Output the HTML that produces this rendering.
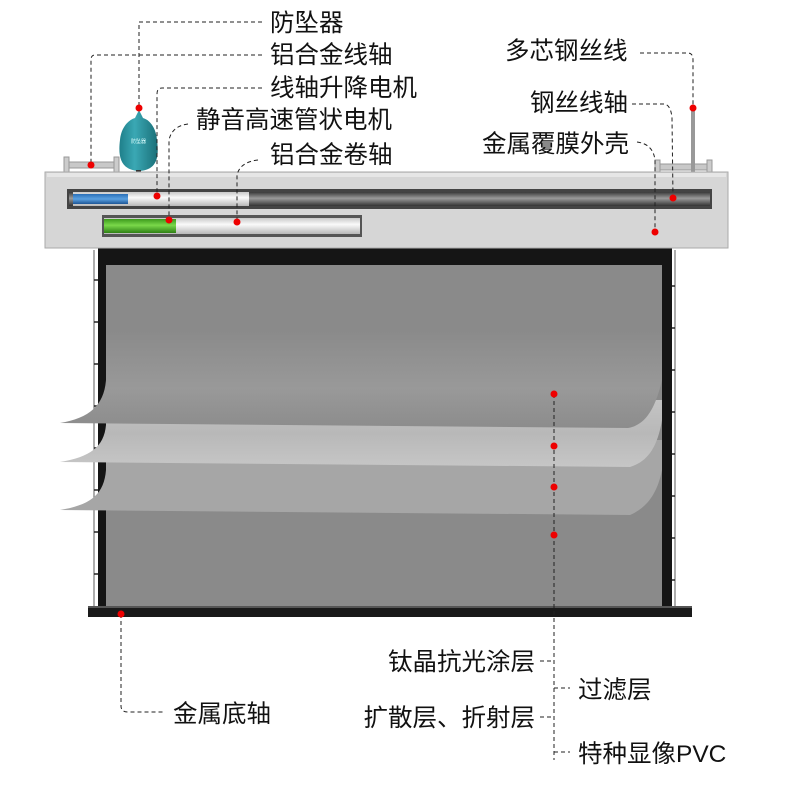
<!DOCTYPE html>
<html><head><meta charset="utf-8"><style>
html,body{margin:0;padding:0;background:#fff;width:800px;height:800px;overflow:hidden}
text{font-family:"Liberation Sans","Noto Sans CJK SC",sans-serif;font-size:24.5px;fill:#111}
</style></head><body>
<svg width="800" height="800" viewBox="0 0 800 800" xmlns="http://www.w3.org/2000/svg">
<defs>
<linearGradient id="tubeD" x1="0" y1="0" x2="0" y2="1"><stop offset="0" stop-color="#3a3a3a"/><stop offset="0.45" stop-color="#9a9a9a"/><stop offset="1" stop-color="#333"/></linearGradient>
<linearGradient id="tubeW" x1="0" y1="0" x2="0" y2="1"><stop offset="0" stop-color="#c8c8c8"/><stop offset="0.4" stop-color="#fafafa"/><stop offset="1" stop-color="#b8b8b8"/></linearGradient>
<linearGradient id="blue" x1="0" y1="0" x2="0" y2="1"><stop offset="0" stop-color="#2a6fb8"/><stop offset="0.5" stop-color="#5aa0e0"/><stop offset="1" stop-color="#1d5596"/></linearGradient>
<linearGradient id="green" x1="0" y1="0" x2="0" y2="1"><stop offset="0" stop-color="#3c9a1c"/><stop offset="0.45" stop-color="#7ad84a"/><stop offset="1" stop-color="#2e8014"/></linearGradient>
<linearGradient id="l1" x1="0" y1="0" x2="0" y2="1"><stop offset="0" stop-color="#8a8a8a"/><stop offset="0.6" stop-color="#999"/><stop offset="1" stop-color="#8c8c8c"/></linearGradient>
<linearGradient id="l2" x1="0" y1="0" x2="0" y2="1"><stop offset="0" stop-color="#c4c4c4"/><stop offset="0.5" stop-color="#b8b8b8"/><stop offset="1" stop-color="#c6c6c6"/></linearGradient>
<linearGradient id="teal" x1="0" y1="0" x2="1" y2="0"><stop offset="0" stop-color="#1f7f8a"/><stop offset="0.4" stop-color="#3aa8b4"/><stop offset="1" stop-color="#1a6f78"/></linearGradient>
</defs>

<!-- side wires -->
<line x1="94" y1="250" x2="94" y2="606" stroke="#777" stroke-width="1.2"/>
<line x1="675" y1="250" x2="675" y2="606" stroke="#777" stroke-width="1.2"/>
<g stroke="#222" stroke-width="1.5">
<line x1="94" y1="280" x2="100" y2="280"/><line x1="94" y1="322" x2="100" y2="322"/><line x1="94" y1="364" x2="100" y2="364"/><line x1="94" y1="406" x2="100" y2="406"/><line x1="94" y1="448" x2="100" y2="448"/><line x1="94" y1="490" x2="100" y2="490"/><line x1="94" y1="532" x2="100" y2="532"/><line x1="94" y1="574" x2="100" y2="574"/>
<line x1="669" y1="286" x2="675" y2="286"/><line x1="669" y1="328" x2="675" y2="328"/><line x1="669" y1="370" x2="675" y2="370"/><line x1="669" y1="412" x2="675" y2="412"/><line x1="669" y1="454" x2="675" y2="454"/><line x1="669" y1="496" x2="675" y2="496"/><line x1="669" y1="538" x2="675" y2="538"/><line x1="669" y1="580" x2="675" y2="580"/>
</g>
<!-- screen -->
<rect x="98" y="248" width="574" height="362" fill="#151515"/>
<rect x="106" y="265" width="556" height="342" fill="#8a8a8a"/>
<!-- layers -->
<path d="M60,510 C90,505 104,495 106,470 L106,440 L662,440 L662,470 C657,495 646,508 630,515 Z" fill="#a6a6a6"/>
<path d="M60,462 C90,457 104,447 106,425 L106,400 L662,400 L662,420 C657,450 646,462 630,467 Z" fill="url(#l2)"/>
<path d="M60,423 C90,418 104,405 106,380 L106,330 L662,330 L662,380 C655,410 645,425 628,428 Z" fill="url(#l1)"/>
<!-- bottom bar -->
<rect x="88" y="606" width="604" height="11" fill="#1a1a1a"/>
<rect x="88" y="606" width="604" height="2" fill="#555"/>

<!-- brackets above housing -->
<rect x="66" y="162" width="52" height="6" rx="2" fill="#c8c8c8" stroke="#999"/>
<rect x="64" y="157" width="5" height="16" fill="#ccc" stroke="#999"/>
<rect x="114" y="157" width="5" height="16" fill="#ccc" stroke="#999"/>
<rect x="658" y="164" width="52" height="6" rx="2" fill="#c8c8c8" stroke="#999"/>
<rect x="655" y="160" width="5" height="13" fill="#ccc" stroke="#999"/>
<rect x="707" y="160" width="5" height="13" fill="#ccc" stroke="#999"/>
<rect x="691" y="108" width="4" height="64" fill="#999"/>
<!-- fall arrester -->
<path d="M139,110 L135,118 C128,120 121,128 120,140 C118,156 120,170 139,171 C158,170 159,156 157,140 C156,128 150,120 143,118 Z" fill="url(#teal)"/>
<rect x="136" y="170" width="5" height="5" fill="#333"/>
<text x="131" y="143" style="font-size:5px;fill:#dff">防坠器</text>

<!-- housing -->
<rect x="45" y="172" width="683" height="76" fill="#d6d6d6" stroke="#aaa"/>
<rect x="47" y="173" width="679" height="4" fill="#e6e6e6"/>
<rect x="67" y="189" width="645" height="20" fill="#444"/>
<rect x="69" y="192" width="641" height="14" fill="url(#tubeD)"/>
<rect x="73" y="192" width="176" height="14" fill="url(#tubeW)"/>
<rect x="73" y="194" width="55" height="10" fill="url(#blue)"/>
<rect x="102" y="215" width="260" height="22" fill="#555"/>
<rect x="104" y="218" width="256" height="16" fill="url(#tubeW)"/>
<rect x="104" y="219" width="72" height="14" fill="url(#green)"/>

<!-- leader lines -->
<g fill="none" stroke="#222" stroke-width="1" stroke-dasharray="4,3">
<path d="M262,22 L139,22 L139,108"/>
<path d="M262,55 L95,55 Q91,55 91,60 L91,165"/>
<path d="M262,88 L162,88 Q157,88 157,94 L157,196"/>
<path d="M188,124 Q172,126 169,140 L169,220"/>
<path d="M258,160 Q240,162 237,175 L237,222"/>
<path d="M640,53 L688,53 Q693,53 693,60 L693,108"/>
<path d="M632,104 L665,104 Q671,106 672,118 L673,198"/>
<path d="M637,142 Q653,144 655,160 L655,232"/>
<path d="M554,394 L554,760"/>
<path d="M540,661 L554,661 M554,688 L570,688 M540,717 L554,717 M554,752 L570,752"/>
<path d="M121,614 L121,706 Q121,712 128,712 L165,712"/>
</g>

<!-- dots -->
<g fill="#e00">
<circle cx="139" cy="108" r="3.5"/><circle cx="91" cy="165" r="3.5"/><circle cx="157" cy="196" r="3.5"/>
<circle cx="169" cy="220" r="3.5"/><circle cx="237" cy="222" r="3.5"/><circle cx="693" cy="108" r="3.5"/>
<circle cx="673" cy="198" r="3.5"/><circle cx="655" cy="232" r="3.5"/>
<circle cx="554" cy="394" r="3.5"/><circle cx="554" cy="446" r="3.5"/><circle cx="554" cy="487" r="3.5"/><circle cx="554" cy="535" r="3.5"/>
<circle cx="121" cy="614" r="3.5"/>
</g>

<!-- labels -->
<text x="270" y="31">防坠器</text>
<text x="270" y="63">铝合金线轴</text>
<text x="270" y="96">线轴升降电机</text>
<text x="196" y="128">静音高速管状电机</text>
<text x="270" y="163">铝合金卷轴</text>
<text x="505" y="59">多芯钢丝线</text>
<text x="530" y="111">钢丝线轴</text>
<text x="482" y="152">金属覆膜外壳</text>
<text x="535" y="670" text-anchor="end">钛晶抗光涂层</text>
<text x="578" y="698">过滤层</text>
<text x="535" y="726" text-anchor="end">扩散层、折射层</text>
<text x="578" y="762">特种显像PVC</text>
<text x="173" y="722">金属底轴</text>
</svg>
</body></html>
